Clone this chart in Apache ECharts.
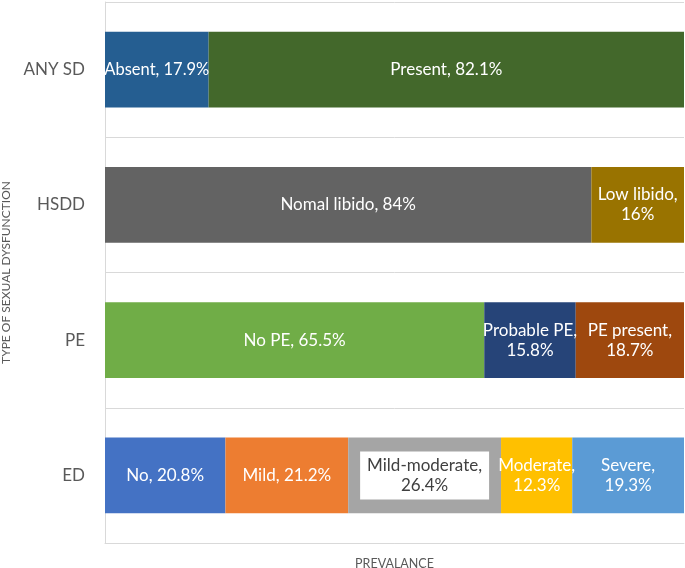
<!DOCTYPE html>
<html>
<head>
<meta charset="utf-8">
<script src="https://cdn.jsdelivr.net/npm/echarts@6/dist/echarts.min.js"></script>
<style>
html,body{margin:0;padding:0;background:#fff;}
#chart{width:685px;height:568px;}
</style>
</head>
<body>
<div id="chart"></div>
<script>
// ---- Data ----
const categories = ['ANY SD', 'HSDD', 'PE', 'ED'];

const anySdNames = ['Absent', 'Present'];
const anySdValues = [17.9, 82.1];

const hsddNames = ['Nomal libido', 'Low libido'];
const hsddValues = [84, 16];

const peNames = ['No PE', 'Probable PE', 'PE present'];
const peValues = [65.5, 15.8, 18.7];

const edNames = ['No', 'Mild', 'Mild-moderate', 'Moderate', 'Severe'];
const edValues = [20.8, 21.2, 26.4, 12.3, 19.3];

const xAxisTitle = 'PREVALANCE';
const yAxisTitle = 'TYPE OF SEXUAL DYSFUNCTION';

// labels shown on two lines
const wrappedLabels = ['Low libido', 'Probable PE', 'PE present', 'Mild-moderate', 'Moderate', 'Severe'];

// ---- Styles ----
const segmentColors = {
  'Absent': '#255E91', 'Present': '#43682B',
  'Nomal libido': '#636363', 'Low libido': '#997300',
  'No PE': '#70AD47', 'Probable PE': '#264478', 'PE present': '#9E480E',
  'No': '#4472C4', 'Mild': '#ED7D31', 'Mild-moderate': '#A5A5A5', 'Moderate': '#FFC000', 'Severe': '#5B9BD5'
};
const FONT = 'Lato';

const groups = [
  [anySdNames, anySdValues],
  [hsddNames, hsddValues],
  [peNames, peValues],
  [edNames, edValues]
];

const series = [];
groups.forEach(([names, values], ci) => {
  names.forEach((name, j) => {
    const data = categories.map((c, k) => (k === ci ? values[j] : '-'));
    const isBox = name === 'Mild-moderate';
    series.push({
      type: 'bar',
      name: name,
      stack: 'total',
      barWidth: '56%',
      data: data,
      itemStyle: { color: segmentColors[name] },
      label: {
        show: true,
        position: 'inside',
        fontFamily: FONT,
        fontSize: name === 'Absent' ? 16.5 : 17,
        lineHeight: 20,
        align: 'center',
        color: isBox ? '#404040' : '#ffffff',
        backgroundColor: isBox ? '#ffffff' : 'transparent',
        padding: isBox ? [4, 7, 4, 7] : 0,
        formatter: (p) => name + ',' + (wrappedLabels.includes(name) ? '\n' : ' ') + p.value + '%'
      },
      emphasis: { disabled: true }
    });
  });
});

const chart = echarts.init(document.getElementById('chart'), null, { renderer: 'canvas' });
chart.setOption({
  animation: false,
  backgroundColor: '#ffffff',
  grid: { left: 105, right: 1, top: 2, bottom: 25, containLabel: false, outerBoundsMode: 'none' },
  xAxis: {
    type: 'value',
    min: 0,
    max: 100,
    axisLabel: { show: false },
    axisTick: { show: false },
    splitLine: { show: false },
    axisLine: { show: true, lineStyle: { color: '#D9D9D9', width: 1 } },
    name: xAxisTitle,
    nameLocation: 'middle',
    nameGap: 14,
    nameTextStyle: { fontFamily: FONT, fontSize: 12.5, color: '#595959' }
  },
  yAxis: {
    type: 'category',
    data: categories,
    inverse: true,
    axisTick: { show: false },
    axisLine: { show: true, lineStyle: { color: '#D9D9D9', width: 1 } },
    splitLine: { show: true, lineStyle: { color: '#D9D9D9', width: 1 } },
    axisLabel: { fontFamily: FONT, fontSize: 17, color: '#595959', margin: 20 },
    name: yAxisTitle,
    nameLocation: 'middle',
    nameGap: 92,
    nameRotate: 90,
    nameTextStyle: { fontFamily: FONT, fontSize: 12, color: '#595959' }
  },
  series: series
});
</script>
</body>
</html>
